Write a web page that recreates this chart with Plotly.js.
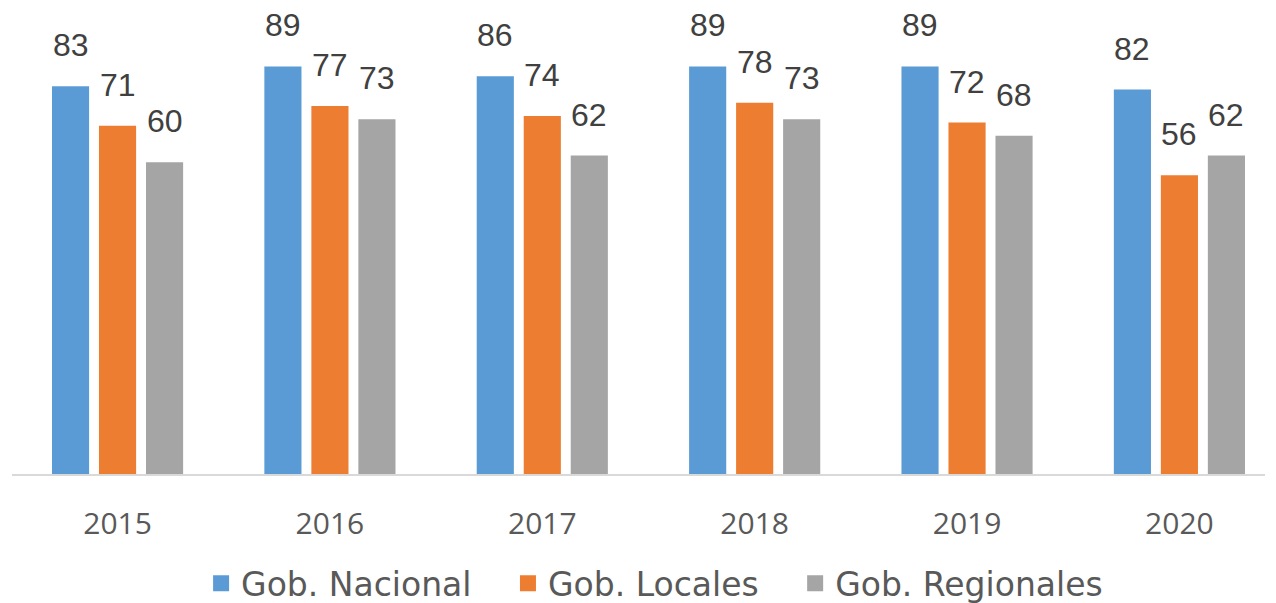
<!DOCTYPE html>
<html>
<head>
<meta charset="utf-8">
<script src="https://cdn.plot.ly/plotly-3.0.1.min.js"></script>
<style>html,body{margin:0;padding:0;background:#fff}#chart{width:1276px;height:603px}</style>
</head>
<body>
<div id="chart"></div>
<script>
const years = ["2015", "2016", "2017", "2018", "2019", "2020"];
const seriesNames = ["Gob. Nacional", "Gob. Locales", "Gob. Regionales"];
const nacional = [83, 89, 86, 89, 89, 82];
const locales = [71, 77, 74, 78, 72, 56];
const regionales = [60, 73, 62, 73, 68, 62];
const colors = ["#5b9bd5", "#ed7d31", "#a5a5a5"];

const AXMIN = -34.5, AXMAX = 106.1;
const allSeries = [nacional, locales, regionales];

const traces = allSeries.map((vals, i) => ({
  type: "bar",
  name: seriesNames[i],
  x: years,
  y: vals.map(v => v - AXMIN),
  base: AXMIN,
  marker: {color: colors[i]},
  showlegend: false,
  hoverinfo: "skip"
}));

// legend entries (square markers like the reference)
const legendPad = "\u00a0\u00a0\u00a0";
seriesNames.forEach((name, i) => {
  traces.push({
    type: "scatter", mode: "markers", name: name + (i < seriesNames.length - 1 ? legendPad : ""),
    x: [null], y: [null],
    marker: {symbol: "square", size: 19, color: colors[i]},
    showlegend: true, hoverinfo: "skip"
  });
});

const slotPx = 47;
const annotations = [];
allSeries.forEach((vals, i) => {
  vals.forEach((v, j) => {
    annotations.push({
      x: j, y: v, xref: "x", yref: "y",
      text: String(v), showarrow: false,
      yanchor: "bottom", xanchor: "center",
      xshift: (i - 1) * slotPx, yshift: 21,
      font: {family: "Liberation Sans, Arial, sans-serif", size: 32, color: "#404040"}
    });
  });
});

const layout = {
  width: 1276, height: 603,
  margin: {l: 12, r: 11, t: 10, b: 129},
  paper_bgcolor: "#ffffff", plot_bgcolor: "#ffffff",
  barmode: "group", bargap: 0.336, bargroupgap: 0.21,
  showlegend: true,
  legend: {orientation: "h", x: 0.513, xref: "container", xanchor: "center",
    y: 0.079, yref: "container", yanchor: "top",
    font: {family: "DejaVu Sans, sans-serif", size: 33, color: "#595959"},
    itemwidth: 30, traceorder: "normal"},
  xaxis: {type: "category", categoryorder: "array", categoryarray: years,
    range: [-0.497, 5.403],
    showgrid: false, zeroline: false, showline: true,
    linecolor: "#d9d9d9", linewidth: 1.5, ticks: "", ticklabelstandoff: 22,
    tickfont: {family: "Open Sans, sans-serif", size: 30, color: "#595959"}},
  yaxis: {range: [AXMIN, AXMAX], visible: false, showgrid: false, zeroline: false},
  annotations: annotations
};

Plotly.newPlot("chart", traces, layout, {displayModeBar: false, staticPlot: true});
</script>
</body>
</html>
